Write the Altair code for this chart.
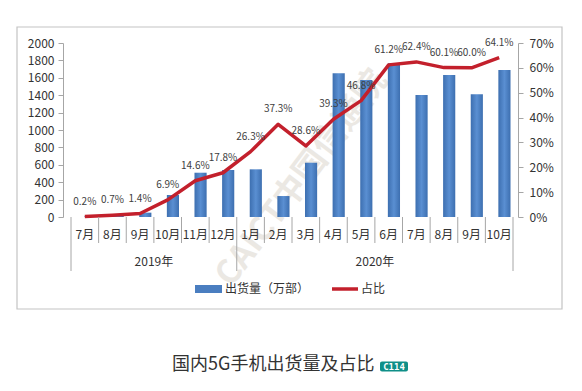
import altair as alt
import pandas as pd
import numpy as np

# ---------------- data ----------------
months = ["7月", "8月", "9月", "10月", "11月", "12月", "1月", "2月", "3月",
          "4月", "5月", "6月", "7月", "8月", "9月", "10月"]
years = ["2019年"] * 6 + ["2020年"] * 10
shipments = [5, 14, 50, 253, 509, 540, 548, 241, 624, 1651, 1574, 1766, 1402, 1632, 1410, 1689]
share = [0.2, 0.7, 1.4, 6.9, 14.6, 17.8, 26.3, 37.3, 28.6, 39.3, 46.8, 61.2, 62.4, 60.1, 60.0, 64.1]
legend_labels = ["出货量（万部）", "占比"]
title_text = "国内5G手机出货量及占比"
badge_text = "C114"
watermark_text = "CAICT中国信通院"

FONT = "Noto Sans CJK SC"
BAR_BLUE = "#4a7ec0"
LINE_RED = "#c3202c"
AXIS_GRAY = "#a6a6a6"
TEXT = "#333333"

n = len(months)
df = pd.DataFrame({"month": months, "year": years, "ship": shipments, "share": share})
df["i"] = np.arange(n)
df["p"] = df["share"] / 100.0
df["xc"] = df["i"] + 0.5
df["xb"] = df["i"] + 0.47
df["xb2"] = df["i"] + 0.91
df["lab"] = df["share"].map(lambda v: f"{v:.1f}%")

# year groups
yg = df.groupby("year", sort=False)["xc"].mean().reset_index()

# separators between month cells
bounds = list(range(n + 1))
group_starts = [0] + [k for k in range(1, n) if years[k] != years[k - 1]] + [n]
sep = pd.DataFrame({"j": bounds, "long": [b in group_starts for b in bounds]})

W, H = 452, 174
xs = alt.Scale(domain=[0, n], nice=False, zero=False)
one = pd.DataFrame({"d": [0]})

# ---------------- outer frame ----------------
frame = alt.Chart(one).mark_rect(fill="transparent", stroke="#c4c4c4", strokeWidth=1.2).encode(
    x=alt.value(-49), x2=alt.value(496), y=alt.value(-16), y2=alt.value(266)
)

watermark = alt.Chart(one).mark_text(
    text=watermark_text, font=FONT, fontSize=33, fontWeight="bold", angle=307,
    color="#d9d2c8", opacity=0.5, align="center", baseline="middle"
).encode(x=alt.value(236), y=alt.value(135))

# ---------------- bars ----------------
grad = alt.Gradient(
    gradient="linear",
    stops=[alt.GradientStop(color="#3d6fb0", offset=0),
           alt.GradientStop(color="#5a8fd2", offset=0.5),
           alt.GradientStop(color="#3d6fb0", offset=1)],
    x1=0, x2=1, y1=0, y2=0,
)
bars = alt.Chart(df).mark_bar(color=grad, orient="vertical").encode(
    x=alt.X("xb:Q", scale=xs,
            axis=alt.Axis(labels=False, ticks=False, grid=False, title=None,
                          domainColor=AXIS_GRAY, domainWidth=1)),
    x2="xb2:Q",
    y=alt.Y("ship:Q", scale=alt.Scale(domain=[0, 2000], nice=False),
            axis=alt.Axis(values=list(range(0, 2001, 200)), format="d", title=None, grid=False,
                          offset=3, tickSize=5, tickColor=AXIS_GRAY, domainColor=AXIS_GRAY,
                          labelFont=FONT, labelFontSize=12, labelColor=TEXT,
                          labelPadding=4)),
    y2=alt.datum(0),
)

# ---------------- share line ----------------
ys_p = alt.Scale(domain=[0, 0.7], nice=False)
right_axis = alt.Axis(orient="right", format=".0%", values=[0, 0.1, 0.2, 0.3, 0.4, 0.5, 0.6, 0.7],
                      title=None, grid=False, tickSize=5, tickColor=AXIS_GRAY,
                      domainColor=AXIS_GRAY, labelFont=FONT, labelFontSize=12,
                      labelColor=TEXT, labelPadding=6)
line_base = alt.Chart(df).encode(
    x=alt.X("xc:Q", scale=xs, axis=None),
    y=alt.Y("p:Q", scale=ys_p, axis=right_axis, title=None),
)
line = line_base.mark_line(color=LINE_RED, strokeWidth=3.5, strokeJoin="round")
pct = line_base.mark_text(font=FONT, fontSize=10, color="#404040", dy=-15,
                          baseline="middle").encode(text="lab:N")
line_layer = alt.layer(line, pct)

# ---------------- category axis (manual two-level) ----------------
mlab = alt.Chart(df).mark_text(font=FONT, fontSize=12, color=TEXT, baseline="middle").encode(
    x=alt.X("xc:Q", scale=xs, axis=None), y=alt.value(192), text="month:N"
)
ylab = alt.Chart(yg).mark_text(font=FONT, fontSize=12, color=TEXT, baseline="middle").encode(
    x=alt.X("xc:Q", scale=xs, axis=None), y=alt.value(219), text="year:N"
)
sep_short = alt.Chart(sep).transform_filter("!datum.long").mark_rule(color=AXIS_GRAY).encode(
    x=alt.X("j:Q", scale=xs, axis=None), y=alt.value(174), y2=alt.value(200)
)
sep_long = alt.Chart(sep).transform_filter("datum.long").mark_rule(color=AXIS_GRAY).encode(
    x=alt.X("j:Q", scale=xs, axis=None), y=alt.value(174), y2=alt.value(228)
)

# ---------------- legend ----------------
leg_rect = alt.Chart(one).mark_rect(color=BAR_BLUE).encode(
    x=alt.value(129), x2=alt.value(156), y=alt.value(242), y2=alt.value(250)
)
leg_t1 = alt.Chart(one).mark_text(text=legend_labels[0], font=FONT, fontSize=12, color=TEXT,
                                  align="left", baseline="middle").encode(
    x=alt.value(159), y=alt.value(246)
)
leg_line = alt.Chart(one).mark_rule(color=LINE_RED, strokeWidth=3.5).encode(
    x=alt.value(266), x2=alt.value(292), y=alt.value(246)
)
leg_t2 = alt.Chart(one).mark_text(text=legend_labels[1], font=FONT, fontSize=12, color=TEXT,
                                  align="left", baseline="middle").encode(
    x=alt.value(295), y=alt.value(246)
)

# ---------------- caption ----------------
caption = alt.Chart(one).mark_text(text=title_text, font=FONT, fontSize=18, color=TEXT,
                                   align="left", baseline="middle").encode(
    x=alt.value(106), y=alt.value(322)
)
badge = alt.Chart(one).mark_rect(color="#0f8f88", cornerRadius=2).encode(
    x=alt.value(314), x2=alt.value(342), y=alt.value(318.5), y2=alt.value(328.5)
)
badge_t = alt.Chart(one).mark_text(text=badge_text, font="DejaVu Sans Mono", fontSize=9,
                                   fontWeight="bold", color="white", align="center",
                                   baseline="middle").encode(
    x=alt.value(328), y=alt.value(323.5)
)

base = alt.layer(bars, line_layer).resolve_scale(y="independent")

chart = alt.layer(
    frame, watermark, base, sep_short, sep_long, mlab, ylab,
    leg_rect, leg_t1, leg_line, leg_t2, caption, badge, badge_t
).properties(
    width=W, height=H,
    padding={"left": 58, "top": 35, "right": 56, "bottom": 166},
    autosize=alt.AutoSizeParams(type="none"),
    background="white",
).configure_view(stroke=None)

chart.save("out.html", embed_options={"renderer": "svg", "actions": False})
